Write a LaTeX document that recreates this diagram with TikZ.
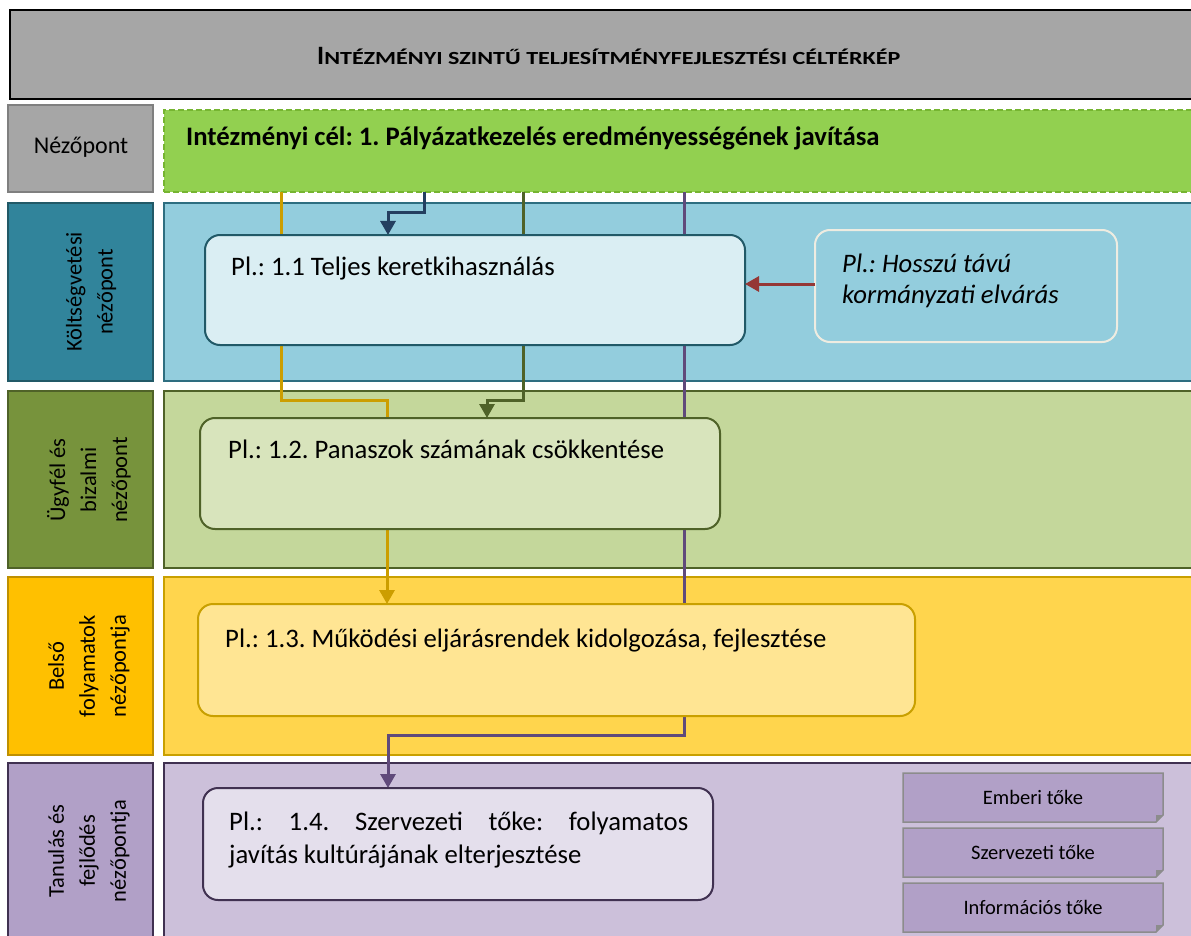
\documentclass[tikz,border=0pt]{standalone}
\usepackage{fontspec}
\setmainfont{Carlito}
\frenchspacing
\usetikzlibrary{arrows.meta}
\definecolor{titlegray}{HTML}{A6A6A6}
\definecolor{nezoborder}{HTML}{7F7F7F}
\definecolor{kolt}{HTML}{31849B}
\definecolor{koltb}{HTML}{215967}
\definecolor{ugyf}{HTML}{77933C}
\definecolor{ugyfb}{HTML}{4F6228}
\definecolor{bels}{HTML}{FFC000}
\definecolor{belsb}{HTML}{BF9000}
\definecolor{tanu}{HTML}{B1A0C7}
\definecolor{tanub}{HTML}{403151}
\definecolor{goalg}{HTML}{92D050}
\definecolor{goalb}{HTML}{76B531}
\definecolor{rowblue}{HTML}{93CDDD}
\definecolor{rowblueb}{HTML}{2E6E80}
\definecolor{rowgreen}{HTML}{C4D79B}
\definecolor{rowyellow}{HTML}{FFD54D}
\definecolor{rowyellowb}{HTML}{C9A000}
\definecolor{rowpurple}{HTML}{CCC0DA}
\definecolor{boxblue}{HTML}{DAEEF3}
\definecolor{boxgreen}{HTML}{D8E4BC}
\definecolor{boxyellow}{HTML}{FFE593}
\definecolor{boxpurple}{HTML}{E4DFEC}
\definecolor{cream}{HTML}{EEECE1}
\definecolor{smallb}{HTML}{8C8C8C}
\definecolor{cyellow}{HTML}{CC9E00}
\definecolor{cblue}{HTML}{243F60}
\definecolor{colive}{HTML}{4F6228}
\definecolor{cpurple}{HTML}{604A7B}
\definecolor{cred}{HTML}{953735}
\pgfdeclarelayer{bg}
\pgfdeclarelayer{wires}
\pgfsetlayers{bg,wires,main}
\begin{document}
\begin{tikzpicture}[x=1pt,y=-1pt,
  area/.style={draw, line width=1.5pt, anchor=north west, inner sep=0pt, outer sep=0pt},
  goalbox/.style={draw, rounded corners=15pt, line width=2pt, anchor=north west, inner sep=0pt, outer sep=0pt},
  txt/.style={inner sep=0pt, anchor=base west, font=\fontsize{26.7}{33}\selectfont},
  sidetxt/.style={rotate=90, align=center, inner sep=0pt, font=\fontsize{22.5}{31}\selectfont},
  conn/.style={line width=3pt, -{Triangle[width=15pt,length=14pt]}},
  smallbox/.style={anchor=north west, inner sep=0pt, outer sep=0pt, minimum width=260pt, minimum height=49pt},
  smallframe/.style={draw=smallb, fill=tanu, line width=1.5pt},
  smalltxt/.style={inner sep=0pt, anchor=base, font=\fontsize{20.5}{24}\selectfont}
]
\useasboundingbox (0,0) rectangle (1191,936);
\begin{pgfonlayer}{bg}
\clip (0,0) rectangle (1191,936);
\fill[white] (0,0) rectangle (1191,936);
% title
\node[area, draw=black, fill=titlegray, minimum width=1190pt, minimum height=89pt] (title) at (10,10) {};
% left column
\node[area, draw=nezoborder, fill=titlegray, minimum width=145pt, minimum height=87pt] (lnezo) at (8,105) {};
\node[area, draw=koltb, fill=kolt, minimum width=145pt, minimum height=178pt] (lkolt) at (8,203) {};
\node[area, draw=ugyfb, fill=ugyf, minimum width=145pt, minimum height=177pt] (lugyf) at (8,391) {};
\node[area, draw=belsb, fill=bels, minimum width=145pt, minimum height=178pt] (lbels) at (8,577) {};
\node[area, draw=tanub, fill=tanu, minimum width=145pt, minimum height=190pt] (ltanu) at (8,763) {};
% rows
\node[area, draw=goalb, fill=goalg, dash pattern=on 6pt off 3pt, minimum width=1040pt, minimum height=82pt] (goal) at (164,110) {};
\node[area, draw=rowblueb, fill=rowblue, minimum width=1040pt, minimum height=178pt] (rkolt) at (164,203) {};
\node[area, draw=ugyfb, fill=rowgreen, minimum width=1040pt, minimum height=177pt] (rugyf) at (164,391) {};
\node[area, draw=rowyellowb, fill=rowyellow, minimum width=1040pt, minimum height=178pt] (rbels) at (164,577) {};
\node[area, draw=tanub, fill=rowpurple, minimum width=1040pt, minimum height=190pt] (rtanu) at (164,763) {};
\end{pgfonlayer}

\node[inner sep=0pt, anchor=base west] (titletxt) at (317,64.3) {\bfseries\fontsize{26.5}{30}\selectfont I\fontsize{18.5}{20}\selectfont\scalebox{1.3}[1]{NTÉZMÉNYI SZINTŰ TELJESÍTMÉNYFEJLESZTÉSI CÉLTÉRKÉP}};
\node[inner sep=0pt, font=\fontsize{24}{29}\selectfont] (tnezo) at (81,147) {Nézőpont};
\node[sidetxt] (tkolt) at (91,292) {Költségvetési\\nézőpont};
\node[sidetxt] (tugyf) at (89,480) {Ügyfél és\\bizalmi\\nézőpont};
\node[sidetxt] (tbels) at (89,666) {Belső\\folyamatok\\nézőpontja};
\node[sidetxt] (ttanu) at (89,851) {Tanulás és\\fejlődés\\nézőpontja};
\node[inner sep=0pt, anchor=base west, font=\bfseries\fontsize{26.7}{30}\selectfont] (goaltxt) at (186,146) {Intézményi cél: 1. Pályázatkezelés eredményességének javítása};

% goal boxes
\node[goalbox, draw=koltb, fill=boxblue, minimum width=540pt, minimum height=110pt] (b1) at (205,235) {};
\node[goalbox, draw=ugyfb, fill=boxgreen, minimum width=520pt, minimum height=111pt] (b2) at (200,418) {};
\node[goalbox, draw=rowyellowb, fill=boxyellow, minimum width=717pt, minimum height=112pt] (b3) at (198,604) {};
\node[goalbox, draw=tanub, fill=boxpurple, minimum width=510pt, minimum height=112pt] (b4) at (203,788) {};
\node[goalbox, draw=cream, fill=rowblue, minimum width=302pt, minimum height=112pt] (ext) at (815,230) {};

\node[txt] (t1) at (231,275) {Pl.: 1.1 Teljes keretkihasználás};
\node[txt] (t2) at (228,458) {Pl.: 1.2. Panaszok számának csökkentése};
\node[txt] (t3) at (225,647) {Pl.: 1.3. Működési eljárásrendek kidolgozása, fejlesztése};
\node[txt] (t4) at (229,830) {\parbox[t]{459pt}{\hbox to 459pt{Pl.:\hfill 1.4.\hfill Szervezeti\hfill tőke:\hfill folyamatos}\hbox{javítás kultúrájának elterjesztése}}};
\node[txt] (t5) at (842,272) {\parbox[t]{260pt}{\baselineskip=32pt\itshape\hbox{Pl.: Hosszú távú}\hbox{kormányzati elvárás}}};

% small boxes
\node[smallbox] (s1) at (903,773) {};
\node[smallbox] (s2) at (903,828) {};
\node[smallbox] (s3) at (903,883) {};
\foreach \s in {s1,s2,s3}{
  \draw[smallframe] (\s.north west) -- (\s.north east) -- ([yshift=7pt]\s.south east) -- ([xshift=-7pt]\s.south east) -- (\s.south west) -- cycle;
  \fill[smallb] ([yshift=7pt]\s.south east) -- ([xshift=-7pt]\s.south east) -- ([xshift=-7pt,yshift=7pt]\s.south east) -- cycle;
}
\node[smalltxt] (st1) at (1033,804) {Emberi tőke};
\node[smalltxt] (st2) at (1033,859) {Szervezeti tőke};
\node[smalltxt] (st3) at (1033,914) {Információs tőke};

% column coordinates
\coordinate (cy) at (281,0);
\coordinate (cy2) at (387,0);
\coordinate (cb) at (424,0);
\coordinate (cb2) at (388,0);
\coordinate (co) at (523,0);
\coordinate (co2) at (487,0);
\coordinate (cp) at (684,0);
\coordinate (cp2) at (388,0);
\coordinate (h400) at (0,400);
\coordinate (h735) at (0,735);
\coordinate (h213) at (0,213);
\coordinate (h284) at (0,284);

\begin{pgfonlayer}{wires}
\draw[conn, cyellow] (goal.south -| cy) -- (cy |- h400) -- (cy2 |- h400) -- (b3.north -| cy2);
\draw[conn, colive] (goal.south -| co) -- (co |- h400) -- (co2 |- h400) -- (b2.north -| co2);
\draw[conn, cpurple] (goal.south -| cp) -- (cp |- h735) -- (cp2 |- h735) -- (b4.north -| cp2);
\draw[conn, cblue] (goal.south -| cb) -- (cb |- h213) -- (cb2 |- h213) -- (b1.north -| cb2);
\end{pgfonlayer}
\draw[conn, cred] (ext.west |- h284) -- (b1.east |- h284);
\end{tikzpicture}
\end{document}
